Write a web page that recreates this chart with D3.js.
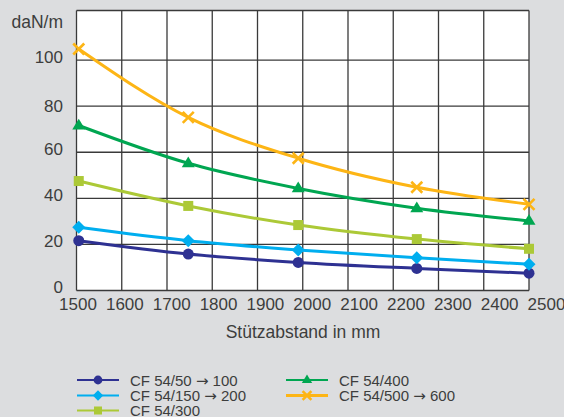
<!DOCTYPE html>
<html>
<head>
<meta charset="utf-8">
<script src="https://cdn.jsdelivr.net/npm/d3@7"></script>
<style>
  html, body { margin: 0; padding: 0; background: #dcdddf; }
  svg { display: block; }
  text { font-family: "Liberation Sans", Arial, sans-serif; fill: #3d3d3d; }
</style>
</head>
<body>
<svg id="chart" width="564" height="417"></svg>
<script>
// ---- data ----
const xValues = [1505, 1747, 1990, 2252, 2500];
const seriesNames = ["CF 54/50 → 100", "CF 54/150 → 200", "CF 54/300", "CF 54/400", "CF 54/500 → 600"];
const s50_100  = [21.6, 15.8, 12.2, 9.6, 7.5];
const s150_200 = [27.4, 21.6, 17.6, 14.2, 11.4];
const s300     = [47.5, 36.7, 28.4, 22.3, 18.1];
const s400     = [71.6, 55.2, 44.3, 35.7, 30.2];
const s500_600 = [104.8, 75.1, 57.4, 44.8, 37.4];
const xTicks = [1500, 1600, 1700, 1800, 1900, 2000, 2100, 2200, 2300, 2400, 2500];
const yTicks = [0, 20, 40, 60, 80, 100];
const yLabel = "daN/m";
const xLabel = "Stützabstand in mm";

// ---- styles ----
const colors = ["#2e3192", "#00aeef", "#acc937", "#00a651", "#fdb515"];
const markers = ["circle", "diamond", "square", "triangle", "cross"];
const allSeries = [s50_100, s150_200, s300, s400, s500_600];

const svg = d3.select("#chart");
const pL = 76.5, pR = 529, pT = 10.5, pB = 290.5;

const x = d3.scaleLinear().domain([1500, 2500]).range([pL, pR]);
const xLab = d3.scaleLinear().domain([1500, 2500]).range([77.5, 546]);
const y = d3.scaleLinear().domain([0, 121.5]).range([pB, pT]);

// plot background
svg.append("rect").attr("x", pL).attr("y", pT)
  .attr("width", pR - pL).attr("height", pB - pT).attr("fill", "#ffffff");

// grid
const grid = svg.append("g");
grid.selectAll("line.v").data(xTicks).join("line").attr("class", "v")
  .attr("x1", d => x(d)).attr("x2", d => x(d)).attr("y1", pT).attr("y2", pB)
  .attr("stroke", "#3a3a3a").attr("stroke-width", 1.3);
grid.selectAll("line.h").data(yTicks.concat([121.5])).join("line").attr("class", "h")
  .attr("x1", pL).attr("x2", pR).attr("y1", d => y(d)).attr("y2", d => y(d))
  .attr("stroke", "#3a3a3a").attr("stroke-width", 1.3);

// axes labels (ticks)
const xAxis = svg.append("g").attr("transform", `translate(0,${pB})`)
  .call(d3.axisBottom(xLab).tickValues(xTicks).tickSize(0).tickPadding(7).tickFormat(d3.format("d")));
xAxis.select(".domain").remove();
xAxis.selectAll("text").style("font-size", "17px").attr("fill", "#3d3d3d");

const yAxis = svg.append("g").attr("transform", `translate(${pL},0)`)
  .call(d3.axisLeft(y).tickValues(yTicks).tickSize(0).tickPadding(13.5));
yAxis.select(".domain").remove();
yAxis.selectAll("text").style("font-size", "17px").attr("fill", "#3d3d3d")
  .attr("y", d => d === 80 ? 0 : -3);

svg.append("text").attr("x", 63).attr("y", 28).attr("text-anchor", "end")
  .style("font-size", "17.5px").text(yLabel);
svg.append("text").attr("x", 303).attr("y", 338).attr("text-anchor", "middle")
  .style("font-size", "17.5px").text(xLabel);

// marker drawing
function drawMarker(g, type, cx, cy, color, s) {
  if (type === "circle") {
    g.append("circle").attr("cx", cx).attr("cy", cy).attr("r", 5.5 * s).attr("fill", color);
  } else if (type === "diamond") {
    const r = 6.5 * s;
    g.append("path").attr("d", `M${cx},${cy - r}L${cx + r},${cy}L${cx},${cy + r}L${cx - r},${cy}Z`).attr("fill", color);
  } else if (type === "square") {
    const r = 5 * s;
    g.append("rect").attr("x", cx - r).attr("y", cy - r).attr("width", 2 * r).attr("height", 2 * r).attr("fill", color);
  } else if (type === "triangle") {
    const r = 6.5 * s;
    g.append("path").attr("d", `M${cx},${cy - r * 1.05}L${cx + r},${cy + r * 0.6}L${cx - r},${cy + r * 0.6}Z`).attr("fill", color);
  } else if (type === "cross") {
    const r = 5.5 * s;
    g.append("path").attr("d", `M${cx - r},${cy - r}L${cx + r},${cy + r}M${cx - r},${cy + r}L${cx + r},${cy - r}`)
      .attr("stroke", color).attr("stroke-width", 2.6).attr("fill", "none");
  }
}

// lines
const line = d3.line().x((d, i) => x(xValues[i])).y(d => y(d)).curve(d3.curveMonotoneX);
const plot = svg.append("g");
allSeries.forEach((vals, k) => {
  plot.append("path").datum(vals).attr("d", line)
    .attr("fill", "none").attr("stroke", colors[k]).attr("stroke-width", 3);
});
allSeries.forEach((vals, k) => {
  vals.forEach((v, i) => drawMarker(plot, markers[k], x(xValues[i]), y(v), colors[k], 1));
});

// legend
const legendPos = [
  {lx: 77, ly: 380}, {lx: 77, ly: 395.5}, {lx: 77, ly: 410.5},
  {lx: 286, ly: 380}, {lx: 286, ly: 395.5}
];
const legend = svg.append("g");
seriesNames.forEach((name, k) => {
  const p = legendPos[k];
  legend.append("line").attr("x1", p.lx).attr("x2", p.lx + 42).attr("y1", p.ly).attr("y2", p.ly)
    .attr("stroke", colors[k]).attr("stroke-width", k === 4 ? 3 : 2);
  drawMarker(legend, markers[k], p.lx + 21, p.ly, colors[k], 0.8);
  const t = legend.append("text").attr("x", p.lx + 53).attr("y", p.ly + 5.5)
    .style("font-size", "15px");
  const parts = name.split("→");
  t.append("tspan").text(parts[0]);
  if (parts.length > 1) {
    t.append("tspan").style("font-family", "'DejaVu Sans', sans-serif").style("font-size", "15px").text("→");
    t.append("tspan").text(parts[1]);
  }
});
</script>
</body>
</html>
